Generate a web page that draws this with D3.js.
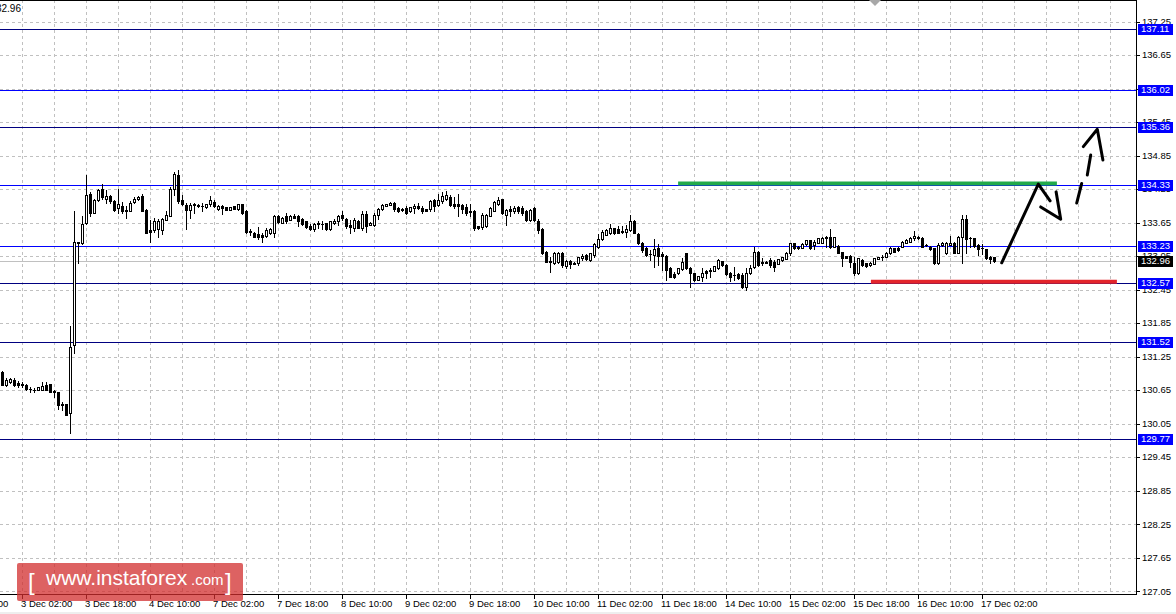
<!DOCTYPE html>
<html><head><meta charset="utf-8">
<script src="https://cdn.jsdelivr.net/npm/d3@7"></script>
<style>html,body{margin:0;padding:0;background:#fff;overflow:hidden}</style>
</head><body>
<svg id="c" width="1176" height="614"></svg>
<script>
// ---------- DATA ----------
const firstBar = -5; // bar index of the first candle (0 = 3 Dec 02:00, H1 bars)
const opens = [
130.98,130.74,130.80,130.84,130.77,130.76,130.74,130.67,130.65,130.66,
130.66,130.74,130.76,130.62,130.61,130.40,130.40,130.24,131.45,133.30,
133.28,133.64,134.17,133.83,134.05,134.25,134.07,134.13,134.04,133.91,
133.95,133.88,133.86,134.01,134.07,134.13,133.88,133.52,133.51,133.54,
133.52,133.70,133.77,134.25,134.51,134.05,133.97,133.88,133.98,133.96,
133.94,133.92,133.98,134.02,133.89,133.95,133.92,133.88,133.94,133.89,
133.98,133.86,133.50,133.47,133.44,133.42,133.41,133.47,133.47,133.76,
133.65,133.76,133.70,133.77,133.77,133.71,133.67,133.59,133.53,133.63,
133.62,133.64,133.53,133.65,133.67,133.79,133.71,133.61,133.55,133.68,
133.55,133.80,133.61,133.61,133.79,133.89,133.95,133.97,134.00,133.91,
133.89,133.91,133.85,133.91,133.95,133.91,133.89,133.89,134.05,133.97,
134.03,134.08,134.10,133.98,133.99,133.96,133.92,133.85,133.86,133.58,
133.57,133.58,133.77,133.86,133.98,134.07,133.79,133.89,133.85,133.92,
133.91,133.86,133.69,133.91,133.68,133.54,133.13,132.96,132.92,132.95,
133.10,132.87,132.96,132.93,132.92,133.01,133.07,132.98,133.07,133.21,
133.35,133.43,133.46,133.55,133.54,133.50,133.48,133.52,133.67,133.45,
133.28,133.20,133.09,133.07,133.20,133.08,133.05,132.84,132.73,132.74,
132.81,133.10,132.83,132.74,132.63,132.68,132.79,132.78,132.79,132.83,
132.96,132.89,132.74,132.71,132.73,132.71,132.50,132.75,132.85,133.13,
132.95,132.93,132.98,132.95,132.91,132.98,133.00,133.11,133.28,133.22,
133.20,133.26,133.33,133.25,133.29,133.29,133.40,133.39,133.22,133.23,
133.12,133.05,133.05,132.92,132.74,132.98,132.92,132.89,132.91,133.00,
133.04,133.04,133.10,133.19,133.20,133.22,133.29,133.31,133.37,133.40,
133.38,133.25,133.22,133.19,132.92,133.24,133.10,133.25,133.29,133.11,
133.39,133.71,133.38,133.37,133.24,133.20,133.17,133.04,133.03];
const highs = [
131.00,130.86,130.87,130.87,130.81,130.80,130.76,130.71,130.68,130.71,
130.79,130.80,130.76,130.66,130.61,130.44,130.41,131.79,133.86,133.31,
133.77,134.50,134.20,134.07,134.25,134.34,134.23,134.14,134.06,134.25,
134.01,133.94,134.03,134.10,134.12,134.16,133.89,133.70,133.73,133.71,
133.74,133.86,134.28,134.56,134.59,134.14,134.00,134.00,134.00,133.99,
134.00,133.99,134.13,134.06,133.96,133.97,133.93,133.93,133.95,133.99,
133.99,133.87,133.54,133.48,133.57,133.46,133.55,133.56,133.78,133.78,
133.75,133.83,133.78,133.80,133.79,133.73,133.68,133.63,133.65,133.67,
133.67,133.65,133.68,133.71,133.79,133.86,133.73,133.70,133.73,133.69,
133.86,133.85,133.66,133.82,133.91,133.98,133.99,134.01,134.01,133.92,
133.91,133.94,133.93,133.98,134.00,133.94,133.90,134.05,134.08,134.16,
134.20,134.22,134.14,134.11,134.16,133.99,133.99,133.99,133.88,133.59,
133.82,133.80,133.92,134.03,134.11,134.08,133.89,133.94,133.95,133.95,
133.94,133.88,133.89,133.92,133.71,133.55,133.14,133.04,133.12,133.13,
133.12,132.98,132.98,132.95,133.04,133.09,133.08,133.11,133.28,133.44,
133.52,133.53,133.63,133.56,133.58,133.58,133.61,133.79,133.70,133.46,
133.31,133.21,133.16,133.35,133.26,133.13,133.07,132.85,132.77,132.84,
133.01,133.11,132.86,132.75,132.70,132.83,132.80,132.83,132.88,132.99,
132.97,132.90,132.77,132.86,132.74,132.74,132.83,132.89,133.22,133.14,
133.01,132.96,133.01,132.98,133.00,133.04,133.12,133.29,133.29,133.23,
133.28,133.34,133.34,133.34,133.38,133.39,133.41,133.53,133.40,133.24,
133.13,133.06,133.07,133.03,133.02,132.99,132.93,132.94,133.02,133.04,
133.07,133.12,133.21,133.20,133.21,133.32,133.35,133.39,133.50,133.41,
133.39,133.27,133.23,133.20,133.29,133.30,133.30,133.41,133.30,133.41,
133.79,133.79,133.40,133.38,133.27,133.27,133.18,133.05,133.04];
const lows = [
130.74,130.72,130.77,130.72,130.71,130.70,130.65,130.61,130.61,130.65,
130.65,130.65,130.61,130.53,130.31,130.30,130.20,129.89,131.31,132.92,
133.27,133.63,133.76,133.82,134.03,134.08,134.00,134.00,133.86,133.82,
133.82,133.74,133.85,134.00,134.06,133.85,133.46,133.31,133.49,133.39,
133.44,133.69,133.76,134.14,134.00,133.97,133.54,133.73,133.82,133.93,
133.85,133.91,133.94,133.93,133.88,133.80,133.87,133.87,133.89,133.88,
133.81,133.46,133.43,133.39,133.35,133.30,133.39,133.45,133.40,133.64,
133.64,133.65,133.69,133.73,133.58,133.61,133.56,133.51,133.50,133.55,
133.53,133.52,133.52,133.63,133.61,133.70,133.55,133.47,133.50,133.55,
133.52,133.49,133.60,133.58,133.71,133.88,133.94,133.96,133.85,133.84,
133.85,133.80,133.84,133.83,133.89,133.83,133.85,133.85,133.86,133.95,
134.00,134.05,133.95,133.91,133.77,133.83,133.79,133.76,133.52,133.54,
133.53,133.57,133.76,133.85,133.97,133.80,133.61,133.76,133.83,133.82,
133.79,133.68,133.68,133.67,133.47,133.08,132.94,132.77,132.90,132.92,
132.85,132.83,132.83,132.91,132.89,132.98,132.98,132.97,133.03,133.19,
133.34,133.42,133.45,133.45,133.46,133.47,133.39,133.50,133.46,133.27,
133.13,133.06,132.98,132.85,132.89,132.80,132.63,132.67,132.65,132.73,
132.80,132.82,132.50,132.61,132.62,132.60,132.65,132.68,132.78,132.82,
132.88,132.72,132.60,132.62,132.64,132.47,132.44,132.73,132.83,132.88,
132.89,132.92,132.86,132.79,132.90,132.97,132.99,133.07,133.18,133.18,
133.19,133.25,133.18,133.17,133.28,133.28,133.22,133.20,133.21,133.10,
132.87,133.01,132.85,132.71,132.73,132.88,132.86,132.88,132.90,132.99,
132.98,133.03,133.09,133.12,133.15,133.21,133.28,133.30,133.34,133.36,
133.21,133.23,133.16,132.91,132.91,133.23,133.09,133.24,133.10,133.10,
132.93,133.11,133.22,133.22,133.07,133.09,133.00,132.92,132.94];
const closes = [
130.74,130.83,130.85,130.74,130.74,130.75,130.67,130.67,130.66,130.70,
130.72,130.66,130.61,130.63,130.38,130.39,130.21,131.43,133.30,133.29,
133.63,134.14,133.82,134.05,134.23,134.10,134.13,134.03,133.88,133.98,
133.86,133.85,134.00,134.07,134.10,133.86,133.47,133.49,133.68,133.68,
133.71,133.78,134.25,134.52,134.04,133.98,133.88,133.97,133.96,133.94,
133.95,133.98,134.05,133.94,133.95,133.91,133.88,133.92,133.90,133.98,
133.82,133.48,133.49,133.40,133.40,133.39,133.52,133.54,133.76,133.66,
133.74,133.67,133.76,133.74,133.68,133.63,133.57,133.53,133.63,133.64,
133.63,133.53,133.67,133.68,133.76,133.73,133.58,133.57,133.70,133.56,
133.80,133.59,133.65,133.79,133.89,133.97,133.98,134.00,133.89,133.85,
133.87,133.83,133.92,133.94,133.91,133.86,133.86,134.03,133.95,134.05,
134.13,134.14,133.97,133.95,133.95,133.90,133.82,133.84,133.55,133.55,
133.79,133.79,133.91,134.01,134.05,133.82,133.88,133.85,133.91,133.85,
133.82,133.69,133.88,133.70,133.52,133.11,132.95,132.94,133.10,133.10,
132.89,132.96,132.90,132.91,133.03,133.05,132.99,133.10,133.26,133.35,
133.49,133.52,133.56,133.46,133.47,133.48,133.54,133.67,133.47,133.28,
133.16,133.07,133.08,133.17,133.05,133.05,132.80,132.68,132.68,132.83,
132.94,132.83,132.75,132.62,132.69,132.75,132.75,132.80,132.87,132.98,
132.89,132.73,132.68,132.71,132.65,132.49,132.74,132.83,133.13,132.89,
132.92,132.95,132.89,132.86,132.99,133.03,133.11,133.28,133.19,133.19,
133.27,133.33,133.19,133.31,133.37,133.38,133.37,133.21,133.39,133.11,
133.01,133.02,132.95,132.74,133.01,132.89,132.87,132.93,133.01,133.03,
133.04,133.11,133.20,133.13,133.16,133.31,133.34,133.38,133.41,133.37,
133.22,133.25,133.17,132.92,133.25,133.29,133.29,133.28,133.11,133.40,
133.71,133.35,133.38,133.23,133.17,133.20,133.01,132.99,132.96];

const timeLabels = ["3 Dec 02:00","3 Dec 18:00","4 Dec 10:00","7 Dec 02:00","7 Dec 18:00","8 Dec 10:00",
  "9 Dec 02:00","9 Dec 18:00","10 Dec 10:00","11 Dec 02:00","11 Dec 18:00","14 Dec 10:00",
  "15 Dec 02:00","15 Dec 18:00","16 Dec 10:00","17 Dec 02:00"];
const barsPerLabel = 16;
const barsPerGrid = 8;
const priceTicks = [137.25,136.65,136.05,135.45,134.85,134.25,133.65,133.05,132.45,131.85,131.25,130.65,130.05,129.45,128.85,128.25,127.65,127.05];
const hiddenTickLabels = [136.05]; // fully covered by the 136.02 price box in the reference
const levels     = [137.11,136.02,135.36,134.33,133.23,132.57,131.52,129.77];
const levelTone  = ["dark","blue","dark","blue","blue","dark","dark","dark"];
const bidPrice = 132.96;
const resistanceZone = [164.1, 258.8, 134.35];   // from bar, to bar, price
const supportZone    = [212.3, 273.8, 132.59];
// hand-drawn forecast arrows: [bar, price] points
const arrowRise   = [[245,132.93],[254.15,134.34],[257.1,134.04]];
const arrowHeadDn = [[254.75,133.93],[259.75,133.71],[258.6,134.20]];
const dashUp1     = [[263.75,134.00],[265.0,134.35]];
const dashUp2     = [[266.4,134.50],[267.25,134.86]];
const arrowHeadUp = [[265.4,135.01],[268.9,135.32],[270.3,134.77]];

// ---------- CHART ----------
const W = 1176, H = 614, PR = 1136, PB = 594;
const FONT = "'Liberation Sans', Arial, sans-serif";
const svg = d3.select("#c");
svg.append("rect").attr("width",W).attr("height",H).attr("fill","#fff");

const x = d3.scaleLinear().domain([-5.425, 278.575]).range([0, PR]);
const y = d3.scaleLinear().domain([127.0, 137.635]).range([PB, 0]);
const cr = v => Math.round(v) + 0.5;

svg.append("clipPath").attr("id","plot").append("rect").attr("x",0).attr("y",0).attr("width",PR).attr("height",PB);
const plot = svg.append("g").attr("clip-path","url(#plot)");

// grid
const gridBars = d3.range(0, 280, barsPerGrid).filter(i => x(i) < PR);
plot.selectAll("line.vg").data(gridBars).join("line")
  .attr("x1", d => cr(x(d))).attr("x2", d => cr(x(d))).attr("y1",0).attr("y2",PB)
  .attr("stroke","#c0c0c0").attr("stroke-dasharray","3,3");
plot.selectAll("line.hg").data(priceTicks).join("line")
  .attr("x1",0).attr("x2",PR).attr("y1", d => cr(y(d))).attr("y2", d => cr(y(d)))
  .attr("stroke","#c0c0c0").attr("stroke-dasharray","3,3");

// bid line
plot.append("line").attr("x1",0).attr("x2",PR).attr("y1",cr(y(bidPrice))).attr("y2",cr(y(bidPrice)))
  .attr("stroke","#c0c0c0");

// level lines
const levelColor = t => t === "blue" ? "#0000ff" : "#000080";
plot.selectAll("line.lv").data(levels).join("line")
  .attr("x1",0).attr("x2",PR).attr("y1", d => cr(y(d))).attr("y2", d => cr(y(d)))
  .attr("stroke",(d,i) => levelColor(levelTone[i]));

// candles
const bars = opens.map((o,k) => ({i: firstBar + k, o, h: highs[k], l: lows[k], c: closes[k]}));
const g = plot.append("g");
bars.forEach(b => {
  const px = Math.round(x(b.i));
  g.append("line").attr("x1",px+0.5).attr("x2",px+0.5)
    .attr("y1",Math.round(y(b.h))).attr("y2",Math.round(y(b.l))+1).attr("stroke","#000");
  const top = Math.round(y(Math.max(b.o,b.c))), bot = Math.round(y(Math.min(b.o,b.c)));
  if (bot - top < 1) {
    g.append("line").attr("x1",px-1).attr("x2",px+2).attr("y1",top+0.5).attr("y2",top+0.5).attr("stroke","#000");
  } else {
    g.append("rect").attr("x",px-0.5).attr("y",top+0.5).attr("width",2).attr("height",bot-top)
      .attr("fill", b.c >= b.o ? "#fff" : "#000").attr("stroke","#000");
  }
});

// zones
[[resistanceZone,"#22aa4a"],[supportZone,"#e3242b"]].forEach(([z,col]) => {
  plot.append("line").attr("x1",x(z[0])).attr("x2",x(z[1])).attr("y1",y(z[2])).attr("y2",y(z[2]))
    .attr("stroke",col).attr("stroke-width",4);
});

// arrows
const ln = d3.line().x(d => x(d[0])).y(d => y(d[1]));
[arrowRise, arrowHeadDn, dashUp1, dashUp2, arrowHeadUp].forEach(pts => {
  plot.append("path").attr("d", ln(pts)).attr("fill","none").attr("stroke","#000")
    .attr("stroke-width",3).attr("stroke-linecap","round").attr("stroke-linejoin","round");
});

// frame
svg.append("line").attr("x1",0).attr("x2",PR).attr("y1",0.5).attr("y2",0.5).attr("stroke","#000");
svg.append("line").attr("x1",PR+0.5).attr("x2",PR+0.5).attr("y1",0).attr("y2",PB+1).attr("stroke","#000");
svg.append("line").attr("x1",0).attr("x2",PR+1).attr("y1",PB+0.5).attr("y2",PB+0.5).attr("stroke","#000");

// small shift marker
svg.append("path").attr("d","M869,0 L881,0 L875,6 Z").attr("fill","#a8a8a8");

// right axis ticks/labels
svg.selectAll("line.yt").data(priceTicks).join("line")
  .attr("x1",PR).attr("x2",PR+4).attr("y1",d => cr(y(d))).attr("y2",d => cr(y(d))).attr("stroke","#000");
svg.selectAll("text.yl").data(priceTicks.filter(v => !hiddenTickLabels.includes(v))).join("text")
  .attr("x",PR+6).attr("y",d => y(d)).attr("dy","0.35em")
  .attr("font-family",FONT).attr("font-size","9.5px").attr("fill","#000")
  .text(d => d.toFixed(2));

// bottom axis ticks/labels
const labBars = timeLabels.map((t,k) => k*barsPerLabel);
svg.selectAll("line.xt").data(labBars).join("line")
  .attr("x1",d => cr(x(d))).attr("x2",d => cr(x(d))).attr("y1",PB).attr("y2",PB+5).attr("stroke","#000");
svg.selectAll("text.xl").data(timeLabels).join("text")
  .attr("x",(d,k) => Math.round(x(labBars[k]))-1).attr("y",PB+13)
  .attr("font-family",FONT).attr("font-size","9.5px").attr("fill","#000").text(d => d);
// clipped previous label at left edge
svg.append("text").attr("x",Math.round(x(-barsPerLabel))-1).attr("y",PB+13)
  .attr("font-family",FONT).attr("font-size","9.5px").text("2 Dec 10:00");

// price boxes
levels.forEach(v => {
  const yy = Math.round(y(v));
  svg.append("rect").attr("x",PR+2).attr("y",yy-5).attr("width",35).attr("height",11).attr("fill","#0000ff");
  svg.append("text").attr("x",PR+5).attr("y",yy).attr("dy","0.36em").attr("font-family",FONT)
    .attr("font-size","9.5px").attr("fill","#fff").text(v.toFixed(2));
});
{
  const yy = Math.round(y(bidPrice));
  svg.append("rect").attr("x",PR+2).attr("y",yy-5).attr("width",35).attr("height",11).attr("fill","#000");
  svg.append("text").attr("x",PR+5).attr("y",yy).attr("dy","0.36em").attr("font-family",FONT)
    .attr("font-size","9.5px").attr("fill","#fff").text(bidPrice.toFixed(2));
}

// top-left price text (clipped)
svg.append("text").attr("x",21).attr("y",12).attr("text-anchor","end").attr("font-family",FONT)
  .attr("font-size","10px").attr("fill","#000").text("132.96");

// bottom strip
svg.append("rect").attr("x",0).attr("y",612).attr("width",W).attr("height",2).attr("fill","#eeeeee");

// logo
const logo = svg.append("g");
logo.append("rect").attr("x",17).attr("y",563).attr("width",226).attr("height",38).attr("rx",2)
  .attr("fill","rgba(210,45,45,0.75)");
logo.append("text").attr("x",28).attr("y",590).attr("font-family",FONT).attr("font-size","24px")
  .attr("font-weight","300").attr("fill","#fff").text("[");
logo.append("text").attr("x",46).attr("y",585).attr("font-family",FONT).attr("font-size","21px")
  .attr("fill","#fff").text("www.instaforex");
logo.append("text").attr("x",191).attr("y",585).attr("font-family",FONT).attr("font-size","15px")
  .attr("fill","#fff").text(".com");
logo.append("text").attr("x",225).attr("y",590).attr("font-family",FONT).attr("font-size","24px")
  .attr("font-weight","300").attr("fill","#fff").text("]");
</script>
</body></html>
